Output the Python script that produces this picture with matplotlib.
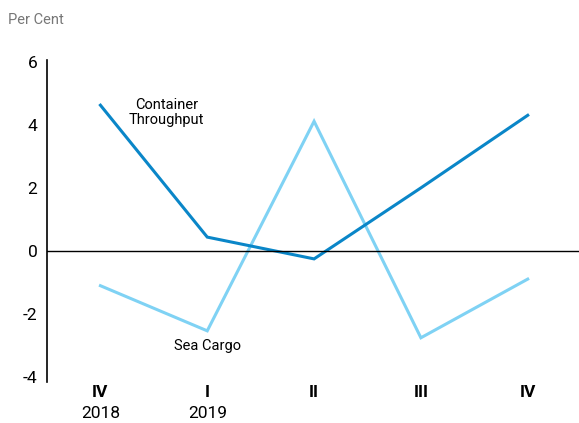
import matplotlib
matplotlib.use("Agg")
import matplotlib.pyplot as plt

quarters = ["IV", "I", "II", "III", "IV"]
years = ["2018", "2019", "", "", ""]
container = [4.62, 0.44, -0.25, 2.0, 4.3]
sea_cargo = [-1.1, -2.53, 4.11, -2.75, -0.89]
yticks = [-4, -2, 0, 2, 4, 6]

plt.rcParams['font.family'] = ['Roboto', 'DejaVu Sans']

fig = plt.figure(figsize=(5.79, 4.23), dpi=100)
ax = fig.add_axes([0.0812, 0.097, 0.9188, 0.761])

x = list(range(len(quarters)))
ax.plot(x, sea_cargo, color="#7fd2f4", lw=2.2, solid_joinstyle="miter")
ax.plot(x, container, color="#0a86c8", lw=2.2, solid_joinstyle="miter")
ax.axhline(0, color="black", lw=1)

ax.set_xlim(-0.5, 4.48)
ax.set_ylim(-4.15, 6.05)
ax.set_yticks(yticks)
ax.set_yticklabels([str(v) for v in yticks], fontsize=12.5)
ax.tick_params(axis="y", length=0, pad=7)
ax.set_xticks(x)
ax.set_xticklabels(quarters, fontsize=12.5, fontweight="bold")
ax.tick_params(axis="x", length=0, pad=2)
for xi, yr in zip(x, years):
    if yr:
        ax.text(xi, 1 - 413/423, yr, transform=ax.get_xaxis_transform() if False else
                matplotlib.transforms.blended_transform_factory(ax.transData, fig.transFigure),
                ha="center", va="center", fontsize=12.5)

for s in ["top", "right", "bottom"]:
    ax.spines[s].set_visible(False)
ax.spines["left"].set_linewidth(1.2)

ax.text(0.62, 4.4, "Container\nThroughput", ha="center", va="center", fontsize=10.5,
        linespacing=1.1)
ax.text(1.0, -3.0, "Sea Cargo", ha="center", va="center", fontsize=10.5)
fig.text(8/579, 1-20/423, "Per Cent", ha="left", va="center", fontsize=10.5, color="#777777")

fig.savefig("out.png", dpi=100)
